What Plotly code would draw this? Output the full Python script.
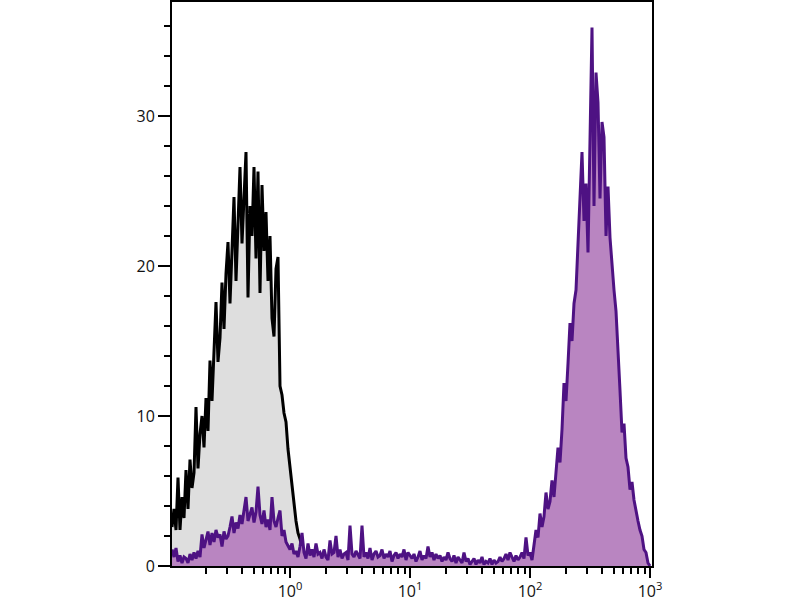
import plotly.graph_objects as go

# ---- channel grid (log10 decades), 1/60 decade per channel ----
CH_START_LOG = -118 / 120
CH_STEP_LOG = 1 / 60

# ---- isotype control (black / gray), values per channel ----
control_counts = [
    2.6, 3.8, 2.4, 5.9, 2.4, 4.6, 3.2, 6.4, 3.8, 7.1, 5.2, 6.2, 10.6, 6.5, 8.8,
    10.0, 7.9, 11.2, 9.0, 13.7, 11.0, 14.2, 17.6, 13.6, 15.2, 18.9, 15.8, 19.5, 21.6, 17.5,
    21.0, 24.6, 19.0, 23.0, 26.6, 21.5, 24.5, 27.6, 17.9, 24.0, 22.0, 26.6, 20.5, 26.3, 18.2,
    25.4, 21.0, 23.6, 19.0, 22.0, 16.5, 15.3, 19.8, 20.6, 12.0, 11.4, 10.2, 9.6, 7.8, 6.6,
    5.2, 3.9, 3.0, 2.2, 1.8, 1.2, 0.8, 0.4, 0.1, 0.0,
]

# ---- stained sample (purple), values per channel ----
stained_counts = [
    1.1, 0.6, 1.2, 0.3, 0.7, 0.2, 0.6, 0.5, 0.2, 0.8, 0.4, 0.9, 0.5, 1.0, 0.6,
    2.1, 1.2, 1.8, 2.3, 1.4, 2.2, 1.6, 2.4, 1.9, 2.1, 1.3, 2.3, 1.8, 2.0, 2.6,
    3.3, 2.2, 2.9, 2.5, 3.4, 2.8, 3.6, 4.6, 3.0, 3.4, 3.9, 2.9, 3.6, 5.3, 3.4,
    2.8, 3.7, 2.6, 3.1, 2.4, 4.6, 3.0, 2.6, 3.2, 3.7, 2.0, 2.4, 1.6, 1.3, 1.1,
    1.5, 0.8, 1.0, 0.6, 1.3, 2.2, 0.9, 0.5, 1.5, 0.7, 1.1, 0.6, 1.5, 0.8, 0.9,
    0.5, 1.1, 0.6, 0.4, 1.7, 0.8, 0.9, 2.0, 0.6, 1.1, 0.5, 0.8, 0.9, 0.4, 2.7,
    0.8, 0.6, 1.0, 0.7, 0.5, 2.7, 0.6, 0.9, 0.5, 1.2, 0.4, 0.8, 1.0, 0.6, 0.7,
    1.1, 0.5, 0.8, 0.6, 1.0, 0.3, 0.7, 0.9, 0.5, 0.8, 0.6, 1.1, 0.4, 0.9, 0.7,
    0.5, 0.8, 0.3, 0.6, 1.0, 0.4, 0.7, 0.5, 1.3, 0.6, 0.9, 0.4, 0.8, 0.5, 0.7,
    0.3, 0.6, 0.4, 0.9, 0.5, 0.3, 0.7, 0.2, 0.6, 0.4, 0.2, 0.9, 0.3, 0.5, 0.1,
    0.3, 0.5, 0.1, 0.4, 0.2, 0.6, 0.1, 0.3, 0.2, 0.5, 0.1, 0.4, 0.2, 0.3, 0.6,
    0.3, 0.5, 0.8, 0.4, 0.9, 0.6, 0.3, 0.7, 0.4, 0.6, 0.9, 0.5, 1.9, 0.7, 0.9,
    0.4, 1.3, 2.4, 1.9, 3.5, 2.6, 3.3, 4.9, 3.8, 4.3, 5.7, 4.6, 6.1, 7.9, 6.9,
    9.1, 12.2, 11.0, 13.5, 16.2, 15.0, 17.5, 18.4, 21.9, 24.9, 27.6, 23.0, 25.5, 20.9, 27.5,
    35.9, 24.0, 32.9, 30.9, 24.5, 29.6, 28.6, 22.0, 25.3, 21.9, 19.9, 18.4, 17.0, 13.9, 11.7,
    8.9, 9.5, 7.2, 6.6, 5.1, 5.6, 4.4, 3.6, 3.0, 2.4, 2.0, 1.1, 0.9, 0.2, 0.0,
]

# ---- axis ticks ----
x_tick_vals = [1, 10, 100, 1000]
x_tick_text = ["10<sup>0</sup>", "10<sup>1</sup>", "10<sup>2</sup>", "10<sup>3</sup>"]
y_tick_vals = [0, 10, 20, 30]
y_tick_text = ["0", "10", "20", "30"]

X_RANGE_LOG = [-118 / 120, 362 / 120]
Y_RANGE = [0, 37.6]


def channels(n):
    return [10 ** (CH_START_LOG + i * CH_STEP_LOG) for i in range(n)]


x_minor = []
for dec in [0.1, 1, 10, 100]:
    for d in range(2, 10):
        x_minor.append(d * dec)

fig = go.Figure()
fig.add_trace(go.Scatter(
    x=channels(len(control_counts)), y=control_counts,
    mode="lines", line=dict(color="#000000", width=3),
    fill="tozeroy", fillcolor="#dedede", showlegend=False,
))
fig.add_trace(go.Scatter(
    x=channels(len(stained_counts)), y=stained_counts,
    mode="lines", line=dict(color="#4e1283", width=3),
    fill="tozeroy", fillcolor="#b985c1", showlegend=False,
))

font = dict(family="Open Sans, DejaVu Sans, sans-serif", size=16, color="#111111")

fig.update_layout(
    width=800, height=600,
    margin=dict(l=172, r=148, t=2, b=34, autoexpand=False),
    paper_bgcolor="white", plot_bgcolor="white",
    font=font,
    xaxis=dict(
        type="log", range=X_RANGE_LOG, automargin=False,
        showgrid=False, zeroline=False,
        showline=True, linecolor="black", linewidth=2, mirror=True,
        ticks="outside", ticklen=10, tickwidth=2, tickcolor="black",
        tickmode="array", tickvals=x_tick_vals, ticktext=x_tick_text,
        minor=dict(ticks="outside", ticklen=6, tickwidth=2, tickcolor="black",
                   tickmode="array", tickvals=x_minor, showgrid=False),
        tickfont=font,
    ),
    yaxis=dict(
        range=Y_RANGE, automargin=False,
        showgrid=False, zeroline=False,
        showline=True, linecolor="black", linewidth=2, mirror=True,
        ticks="outside", ticklen=12, tickwidth=2, tickcolor="black",
        tickmode="array", tickvals=y_tick_vals, ticktext=y_tick_text,
        minor=dict(ticks="outside", ticklen=6, tickwidth=2, tickcolor="black",
                   dtick=2, showgrid=False),
        tickfont=font,
    ),
)

fig.write_html(
    "out.html",
    config={"displayModeBar": False},
    post_script="document.body.style.margin='0px';document.body.style.overflow='hidden';",
)
